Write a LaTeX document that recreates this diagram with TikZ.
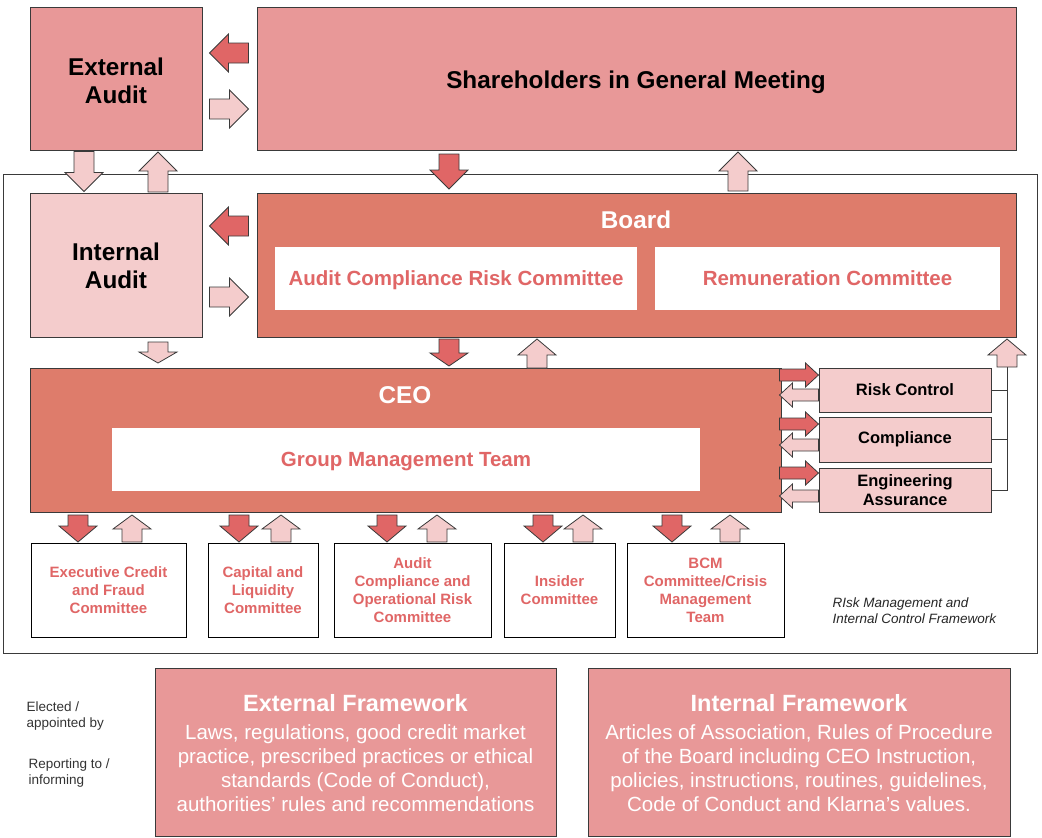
\documentclass[tikz,border=0pt]{standalone}
\usepackage{fontspec}
\setmainfont{Liberation Sans}
\definecolor{shpink}{HTML}{E89898}
\definecolor{brd}{HTML}{DE7C6B}
\definecolor{lpink}{HTML}{F4CCCC}
\definecolor{darr}{HTML}{E06666}
\definecolor{rtext}{HTML}{E06666}
\definecolor{edge}{HTML}{3A3A3A}
\newcommand{\barrow}[8]{%
 \begin{scope}[shift={(#1,#2)},rotate=#3]
 \filldraw[fill=#8,draw=edge,line width=0.8pt,line join=miter]
 ({-#4/2},{-#6/2}) -- ({#4/2-#7},{-#6/2}) -- ({#4/2-#7},{-#5/2}) -- ({#4/2},0)
 -- ({#4/2-#7},{#5/2}) -- ({#4/2-#7},{#6/2}) -- ({-#4/2},{#6/2}) -- cycle;
 \end{scope}}
\tikzset{
 box/.style={draw=edge, line width=0.9pt, inner sep=0pt, align=center},
 bigtxt/.style={font=\bfseries\fontsize{24.3}{28}\selectfont},
 wbox/.style={fill=white, inner sep=0pt, align=center, text=rtext, text depth=0pt, font=\bfseries\fontsize{20.5}{24}\selectfont},
 sidebox/.style={box, fill=lpink, minimum width=172pt, font=\bfseries\fontsize{16.5}{19}\selectfont},
 combox/.style={box, draw=black, fill=white, minimum height=94pt, text=rtext, font=\bfseries\fontsize{15}{18}\selectfont},
 fwbox/.style={box, fill=shpink, minimum width=#1, minimum height=168pt, text=white},
 fwtext/.style={text=white, align=center, font=\fontsize{20.5}{24}\selectfont},
 legend/.style={anchor=west, align=left, text=black!80, font=\fontsize{13.5}{16}\selectfont},
}
\begin{document}
\begin{tikzpicture}[x=1pt,y=-1pt]
\useasboundingbox (0,0) rectangle (1042,838);
% outer frame
\draw[edge, line width=0.9pt] (3,174) rectangle (1037,653);
% top row
\node[box, fill=shpink, minimum width=172pt, minimum height=143pt] (ext) at (116,78.5) {};
\node[bigtxt, align=center] (extt) at (116,81) {External\\Audit};
\node[box, fill=shpink, minimum width=759pt, minimum height=143pt] (sh) at (636.5,78.5) {};
\node[bigtxt, text depth=0pt] (sht) at (636,80) {Shareholders in General Meeting};
% second row
\node[box, fill=lpink, minimum width=172pt, minimum height=144pt] (int) at (116,265) {};
\node[bigtxt, align=center] (intt) at (116,266) {Internal\\Audit};
\node[box, fill=brd, minimum width=759pt, minimum height=144pt] (board) at (636.5,265) {};
\node[text=white, bigtxt, text depth=0pt] (boardt) at (636,220) {Board};
\node[wbox, minimum width=362pt, minimum height=63pt] (acrc) at (456,278.5) {Audit Compliance Risk Committee};
\node[wbox, minimum width=345pt, minimum height=63pt] (rem) at (827.5,278.5) {Remuneration Committee};
% CEO
\node[box, fill=brd, minimum width=751pt, minimum height=144pt] (ceo) at (405.5,440) {};
\node[text=white, bigtxt, text depth=0pt] (ceot) at (405,395) {CEO};
\node[wbox, minimum width=588pt, minimum height=63pt] (gmt) at (406,459.5) {Group Management Team};
% side boxes
\node[sidebox, minimum height=44pt] (rc) at (905,390) {Risk Control};
\node[sidebox, minimum height=45pt] (comp) at (905,439.5) {Compliance};
\node[sidebox, minimum height=44pt] (eng) at (905,490) {Engineering\\Assurance};
\coordinate (vtop) at (1007,367);
\draw[edge, line width=0.9pt] (eng.east) -| (vtop);
\draw[edge, line width=0.9pt] (rc.east) -- (rc.east -| vtop);
\draw[edge, line width=0.9pt] (comp.east) -- (comp.east -| vtop);
% committees
\node[combox, minimum width=155pt] (c1) at (108.5,590) {Executive Credit\\and Fraud\\Committee};
\node[combox, minimum width=110pt] (c2) at (263,590) {Capital and\\Liquidity\\Committee};
\node[combox, minimum width=157pt] (c3) at (412.5,590) {Audit\\Compliance and\\Operational Risk\\Committee};
\node[combox, minimum width=111pt] (c4) at (559.5,590) {Insider\\Committee};
\node[combox, minimum width=157pt] (c5) at (705.5,590) {BCM\\Committee/Crisis\\Management\\Team};
\node[anchor=west, align=left, text=black!85, font=\itshape\fontsize{13.5}{16}\selectfont] (rmicf) at (829,611) {RIsk Management and\\Internal Control Framework};
% frameworks
\node[fwbox=401pt] (ef) at (355.5,752) {};
\node[fwtext] (eft) at (355.5,753) {{\bfseries\fontsize{23.5}{28}\selectfont External Framework}\\[4pt]
 Laws, regulations, good credit market\\
 practice, prescribed practices or ethical\\
 standards (Code of Conduct),\\
 authorities’ rules and recommendations};
\node[fwbox=422pt] (if) at (799,752) {};
\node[fwtext] (ift) at (799,753) {{\bfseries\fontsize{23.5}{28}\selectfont Internal Framework}\\[4pt]
 Articles of Association, Rules of Procedure\\
 of the Board including CEO Instruction,\\
 policies, instructions, routines, guidelines,\\
 Code of Conduct and Klarna’s values.};
% legend
\node[legend] (l1) at (23,716) {Elected /\\appointed by};
\node[legend] (l2) at (25,773) {Reporting to /\\informing};
% block arrows
\barrow{229}{53}{180}{39}{38}{20}{19}{darr}
\barrow{229}{109}{0}{39}{38}{20}{19}{lpink}
\barrow{84}{171.5}{270}{40}{38}{20}{19}{lpink}
\barrow{158}{172}{90}{40}{38}{20}{19}{lpink}
\barrow{449}{171.5}{270}{35}{38}{20}{19}{darr}
\barrow{738}{171.5}{90}{39}{38}{20}{19}{lpink}
\barrow{229}{226}{180}{39}{38}{20}{19}{darr}
\barrow{229}{297}{0}{39}{38}{20}{19}{lpink}
\barrow{158}{352.5}{270}{21}{38}{20}{11}{lpink}
\barrow{449}{352.5}{270}{27}{38}{20}{13}{darr}
\barrow{537}{353.5}{90}{29}{38}{20}{16}{lpink}
\barrow{1007}{353}{90}{28}{38}{20}{16}{lpink}
% side arrows
\barrow{799}{375}{0}{39}{24}{12}{13}{darr}
\barrow{799}{424}{0}{39}{24}{12}{13}{darr}
\barrow{799}{473}{0}{39}{24}{12}{13}{darr}
\barrow{799}{395}{180}{39}{24}{12}{13}{lpink}
\barrow{799}{445}{180}{39}{24}{12}{13}{lpink}
\barrow{799}{496}{180}{39}{24}{12}{13}{lpink}
% committee arrows
\barrow{78}{528.5}{270}{27}{38}{20}{16}{darr}
\barrow{132}{528.5}{90}{27}{38}{20}{14}{lpink}
\barrow{239}{528.5}{270}{27}{38}{20}{16}{darr}
\barrow{281}{528.5}{90}{27}{38}{20}{14}{lpink}
\barrow{387}{528.5}{270}{27}{38}{20}{16}{darr}
\barrow{437}{528.5}{90}{27}{38}{20}{14}{lpink}
\barrow{543}{528.5}{270}{27}{38}{20}{16}{darr}
\barrow{583}{528.5}{90}{27}{38}{20}{14}{lpink}
\barrow{672}{528.5}{270}{27}{38}{20}{16}{darr}
\barrow{730}{528.5}{90}{27}{38}{20}{14}{lpink}
\end{tikzpicture}
\end{document}
